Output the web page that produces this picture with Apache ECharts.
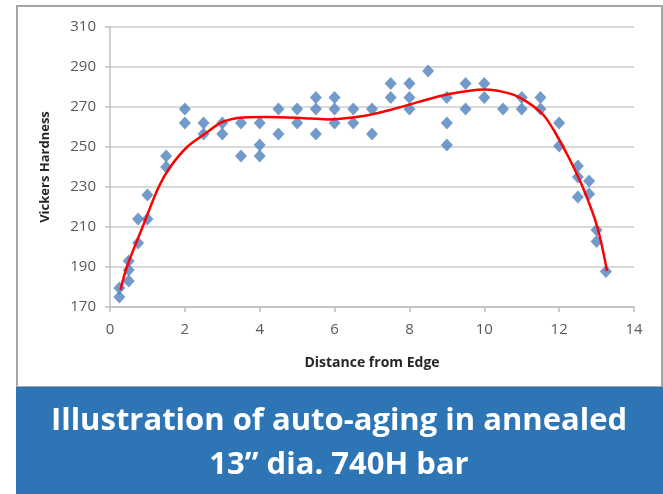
<!DOCTYPE html>
<html>
<head>
<meta charset="utf-8">
<script src="https://cdn.jsdelivr.net/npm/echarts@6/dist/echarts.min.js"></script>
<style>
  html, body { margin: 0; padding: 0; background: #fff; }
  #chart { width: 663px; height: 494px; }
</style>
</head>
<body>
<div id="chart"></div>
<script>
  // measured hardness readings (distance from edge, HV)
  const distance = [
    0.25, 0.25, 0.5, 0.5, 0.5, 0.75, 0.75, 1.0, 1.0, 1.5, 1.5,
    2.0, 2.0, 2.5, 2.5, 3.0, 3.0, 3.5, 3.5, 4.0, 4.0, 4.0,
    4.5, 4.5, 5.0, 5.0, 5.5, 5.5, 5.5, 6.0, 6.0, 6.0, 6.5, 6.5,
    7.0, 7.0, 7.5, 7.5, 8.0, 8.0, 8.0, 8.5, 9.0, 9.0, 9.0,
    9.5, 9.5, 10.0, 10.0, 10.5, 11.0, 11.0, 11.5, 11.5, 12.0, 12.0,
    12.5, 12.5, 12.8, 12.8, 12.5, 13.0, 13.0, 13.25
  ];
  const hardness = [
    175, 179.5, 183, 188.5, 193, 202, 214, 214, 226, 240, 245.5,
    269, 262, 262, 256.5, 262, 256.5, 262, 245.5, 262, 251, 245.5,
    269, 256.5, 269, 262, 274.7, 269, 256.5, 274.7, 269, 262, 269, 262,
    269, 256.5, 281.8, 274.7, 281.8, 274.7, 269, 288, 274.7, 262, 251,
    281.8, 269, 281.8, 274.7, 269, 274.7, 269, 274.7, 269, 262, 250.5,
    240.5, 235, 233, 226.5, 225, 208.5, 202.7, 187.7
  ];

  // red trend line
  const trendX = [0.28, 0.45, 0.87, 1.3, 1.61, 2.06, 2.55, 3.0, 3.56, 4.19, 5.08, 5.8,
    6.77, 7.48, 8.28, 9.0, 10.0, 10.69, 11.13, 11.58, 11.9, 12.25, 12.64, 13.02, 13.28];
  const trendY = [178.5, 190, 210, 230, 240, 250, 256.8, 262.5, 264.8, 265, 264.5, 263.8,
    265.5, 268.5, 272.7, 276.3, 278.8, 276.7, 272.7, 266, 257, 245, 229.5, 210, 188];

  const xTicks = [0, 2, 4, 6, 8, 10, 12, 14];
  const yTicks = [170, 190, 210, 230, 250, 270, 290, 310];

  const caption = ["Illustration of auto-aging in annealed", "13\u201d dia. 740H bar"];

  const myChart = echarts.init(document.getElementById("chart"));

  const option = {
    backgroundColor: "#fff",
    animation: false,
    grid: { left: 110, right: 29, top: 27, bottom: 187 },
    xAxis: {
      type: "value",
      min: xTicks[0],
      max: xTicks[xTicks.length - 1],
      interval: 2,
      name: "Distance from Edge",
      nameLocation: "middle",
      nameGap: 49,
      nameTextStyle: { color: "#262626", fontSize: 14, fontWeight: "bold", fontFamily: "Open Sans" },
      axisLine: { lineStyle: { color: "#BFBFBF", width: 1.5 } },
      axisTick: { show: true, length: 5, lineStyle: { color: "#BFBFBF", width: 1.5 } },
      axisLabel: { margin: 15, color: "#595959", fontSize: 15, fontFamily: "Open Sans" },
      splitLine: { show: false },
    },
    yAxis: {
      type: "value",
      min: yTicks[0],
      max: yTicks[yTicks.length - 1],
      interval: 20,
      name: "Vickers Hardness",
      nameLocation: "middle",
      nameGap: 58,
      nameRotate: 90,
      nameTextStyle: { color: "#262626", fontSize: 13, fontWeight: "bold", fontFamily: "Open Sans" },
      axisLine: { show: true, lineStyle: { color: "#BFBFBF", width: 1.5 } },
      axisTick: { show: true, length: 5, lineStyle: { color: "#BFBFBF", width: 1.5 } },
      axisLabel: { margin: 14, color: "#595959", fontSize: 15, fontFamily: "Open Sans" },
      splitLine: { lineStyle: { color: "#D9D9D9", width: 2 } },
    },
    graphic: [
      {
        type: "rect",
        shape: { x: 17, y: 6, width: 645, height: 381 },
        style: { fill: "none", stroke: "#A6A6A6", lineWidth: 2 },
        silent: true,
      },
      {
        type: "rect",
        shape: { x: 16, y: 387, width: 647, height: 107 },
        style: { fill: "#2E75B6" },
        silent: true,
      },
      {
        type: "text",
        x: 339, y: 421,
        style: {
          text: caption[0], fill: "#fff", align: "center", verticalAlign: "middle",
          font: "bold 31px 'Open Sans'",
        },
      },
      {
        type: "text",
        x: 339, y: 465,
        style: {
          text: caption[1], fill: "#fff", align: "center", verticalAlign: "middle",
          font: "bold 31px 'Open Sans'",
        },
      },
    ],
    series: [
      {
        type: "scatter",
        symbol: "diamond",
        symbolSize: [12, 13],
        itemStyle: { color: "#4F81BD" },
        data: distance.map((d, i) => [d, hardness[i]]),
        z: 2,
      },
      {
        type: "line",
        smooth: 0.3,
        showSymbol: false,
        lineStyle: { color: "#FF0000", width: 2.5 },
        data: trendX.map((d, i) => [d, trendY[i]]),
        z: 3,
      },
    ],
  };

  myChart.setOption(option);
</script>
</body>
</html>
